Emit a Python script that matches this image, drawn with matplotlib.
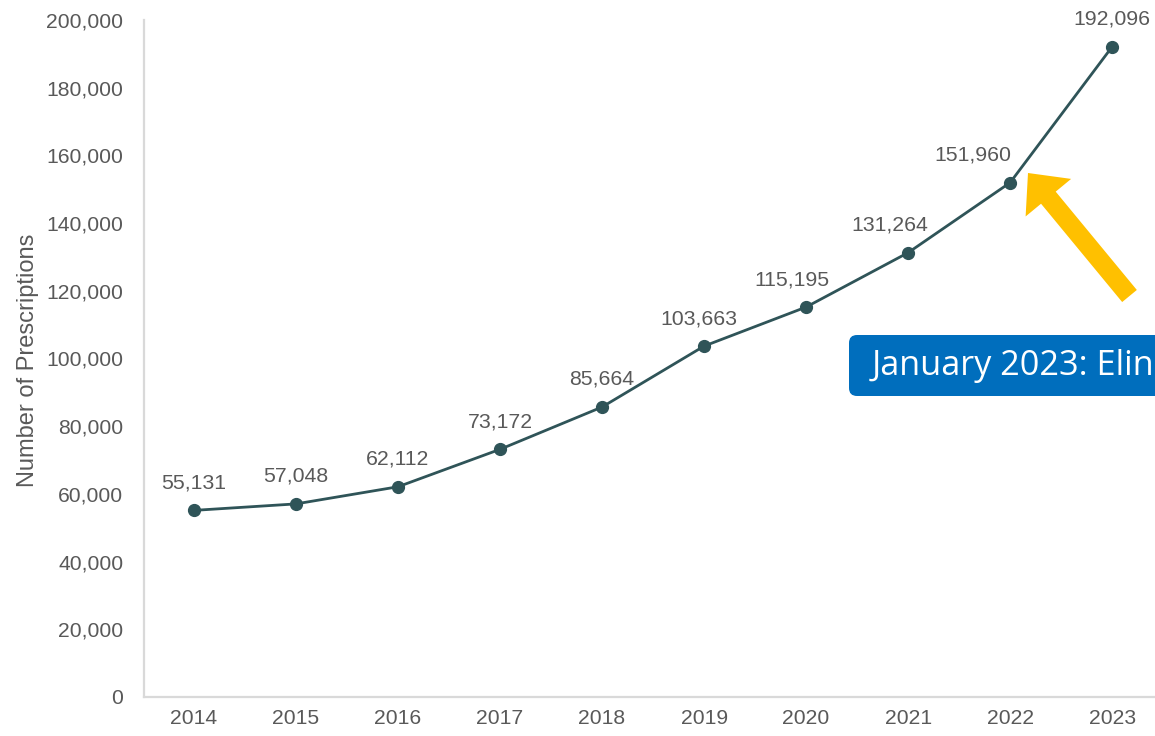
import matplotlib.pyplot as plt
from matplotlib.patches import FancyArrow, FancyBboxPatch
from matplotlib.transforms import IdentityTransform
from matplotlib.ticker import FuncFormatter

plt.rcParams['font.family'] = ['Liberation Sans', 'DejaVu Sans']

years = ["2014", "2015", "2016", "2017", "2018", "2019", "2020", "2021", "2022", "2023"]
prescriptions = [55131, 57048, 62112, 73172, 85664, 103663, 115195, 131264, 151960, 192096]
note = "January 2023: Elin"

W, H = 1155, 736
fig = plt.figure(figsize=(W / 100, H / 100), dpi=100)
ax = fig.add_axes([144 / W, 1 - 697 / H, 1 - 144 / W, (697 - 20) / H])

line_c = "#2f5458"
txt_c = "#595959"
x = list(range(len(years)))
ax.plot(x, prescriptions, color=line_c, lw=2.0, marker="o", ms=8.5, zorder=3)
# some labels sit a little left of their point in the original
shift = [0, 0, 0, 0, 0, -4, -10, -13, -27, 0]
for xi, v, dx in zip(x, prescriptions, shift):
    ax.annotate(f"{v:,}", (xi, v), xytext=(dx, 13), textcoords="offset points",
                ha="center", va="bottom", fontsize=15.3, color=txt_c)

ax.set_xlim(-0.49, 9.42)
ax.set_ylim(0, 200000)
ax.set_yticks(range(0, 200001, 20000))
ax.yaxis.set_major_formatter(FuncFormatter(lambda v, p: f"{int(v):,}"))
ax.set_xticks(x)
ax.set_xticklabels(years)
ax.tick_params(length=0, labelsize=15.2, labelcolor=txt_c)
ax.tick_params(axis="y", pad=15)
ax.tick_params(axis="x", pad=9)
for s in ["top", "right"]:
    ax.spines[s].set_visible(False)
for s in ["left", "bottom"]:
    ax.spines[s].set_color("#d9d9d9")
    ax.spines[s].set_linewidth(1.6)

fig.text(28 / W, 1 - 360 / H, "Number of Prescriptions", rotation=90,
         ha="center", va="center", fontsize=17, color=txt_c)

# callout box (runs off the right edge)
box = FancyBboxPatch((849, H - 396), 420, 61, boxstyle="round,pad=0,rounding_size=8",
                     transform=IdentityTransform(), facecolor="#006ebd", edgecolor="none")
fig.patches.append(box)
fig.text(872 / W, 1 - 366 / H, note, ha="left", va="center", fontsize=24.7,
         color="white", family=["Open Sans", "DejaVu Sans"])

# yellow arrow
arr = FancyArrow(1129.5, H - 296, -101.5, 123, width=19, head_width=59, head_length=32,
                 length_includes_head=True, transform=IdentityTransform(),
                 facecolor="#ffc000", edgecolor="none")
fig.patches.append(arr)

fig.savefig("out.png", dpi=100)
